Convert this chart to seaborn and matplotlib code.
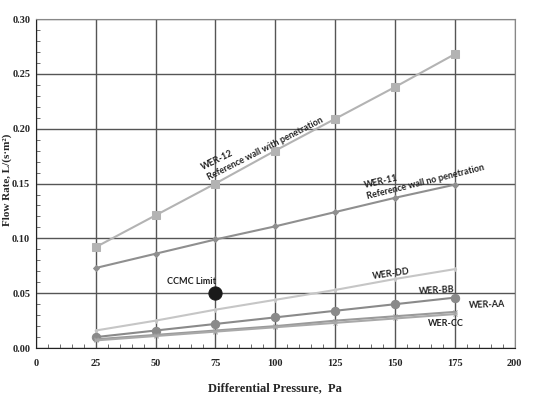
import numpy as np
import pandas as pd
import seaborn as sns
import matplotlib.pyplot as plt
from matplotlib.ticker import MultipleLocator

# valores
pressao = [25, 50, 75, 100, 125, 150, 175]
wer_12 = [0.092, 0.121, 0.150, 0.180, 0.209, 0.238, 0.268]
wer_11 = [0.073, 0.086, 0.099, 0.111, 0.124, 0.137, 0.149]
wer_dd = [0.016, 0.025, 0.035, 0.044, 0.053, 0.063, 0.072]
wer_bb = [0.010, 0.016, 0.022, 0.028, 0.034, 0.040, 0.046]
wer_aa = [0.008, 0.012, 0.016, 0.020, 0.025, 0.029, 0.033]
wer_cc = [0.007, 0.011, 0.015, 0.019, 0.023, 0.027, 0.031]
ccmc_x = [75]
ccmc_y = [0.05]

sns.set_style("white")
serif = ["Liberation Serif", "DejaVu Serif"]
sans = ["Lato", "DejaVu Sans"]

fig = plt.figure(figsize=(5.34, 3.96), dpi=100)
ax = fig.add_axes([0.067, 0.121, 0.897, 0.831])

series = [
    (wer_12, "#b3b3b3", "s", 5.5),
    (wer_11, "#8f8f8f", "D", 3),
    (wer_dd, "#c6c6c6", "d", 2),
    (wer_bb, "#8a8a8a", "o", 6),
    (wer_aa, "#9a9a9a", "x", 3),
    (wer_cc, "#a9a9a9", "x", 3),
]
for valores, cor, marc, tam in series:
    sns.lineplot(x=pressao, y=valores, ax=ax, color=cor, marker=marc,
                 markersize=tam, markeredgecolor=cor, linewidth=1.5, zorder=3)

sns.scatterplot(x=ccmc_x, y=ccmc_y, ax=ax, color="#1a1a1a", s=90,
                edgecolor="#1a1a1a", zorder=4)

ax.set_xlim(0, 200)
ax.set_ylim(0, 0.30)
ax.xaxis.set_major_locator(MultipleLocator(25))
ax.xaxis.set_minor_locator(MultipleLocator(5))
ax.yaxis.set_major_locator(MultipleLocator(0.05))
ax.yaxis.set_minor_locator(MultipleLocator(0.01))
ax.grid(True, which="major", color="#555555", linewidth=1.0, zorder=0)
ax.tick_params(which="minor", direction="in", length=3, color="#555555",
               bottom=True, left=True)
ax.tick_params(axis="x", which="major", length=0, pad=8)
ax.tick_params(axis="y", which="major", length=0, pad=4)
ax.set_yticks(np.arange(0, 0.31, 0.05))
ax.set_yticklabels([f"{v:.2f}" for v in np.arange(0, 0.31, 0.05)])
for lab in ax.get_xticklabels() + ax.get_yticklabels():
    lab.set_family(serif)
    lab.set_fontweight("bold")
    lab.set_fontsize(7.5)

for lado in ["left", "bottom"]:
    ax.spines[lado].set_color("#222222")
for lado in ["top", "right"]:
    ax.spines[lado].set_color("#888888")

ax.set_xlabel("Differential Pressure,  Pa", family=serif, fontweight="bold",
              fontsize=9)
ax.xaxis.set_label_coords(0.5, -0.104)
ax.set_ylabel("Flow Rate, L/(s·m²)", family=serif, fontweight="bold",
              fontsize=8)
ax.yaxis.set_label_coords(-0.05, 0.51)

rotulo = dict(family=sans, fontweight="bold", fontsize=6.5, color="#222222",
              ha="center", va="center")
ax.text(75.8, 0.171, "WER-12", rotation=26, **rotulo)
ax.text(95.8, 0.182, "Reference wall with penetration", rotation=27, **rotulo)
ax.text(144.2, 0.152, "WER-11", rotation=13, **rotulo)
ax.text(162.9, 0.151, "Reference wall no penetration", rotation=14, **rotulo)
ax.text(148.3, 0.068, "WER-DD", rotation=8, **rotulo)
ax.text(167.5, 0.052, "WER-BB", rotation=3, **rotulo)
ax.text(188.5, 0.039, "WER-AA", rotation=2, **rotulo)
ax.text(171.3, 0.022, "WER-CC", rotation=0, **rotulo)
ax.text(65, 0.061, "CCMC Limit", rotation=0, **rotulo)

fig.savefig("out.png", dpi=100)
